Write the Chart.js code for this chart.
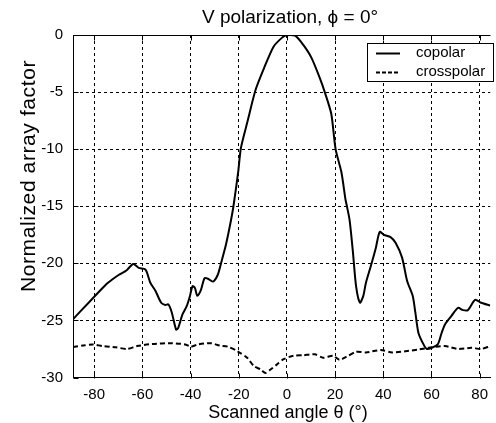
<!DOCTYPE html>
<html><head><meta charset="utf-8">
<script src="https://cdn.jsdelivr.net/npm/chart.js@4.4.1/dist/chart.umd.min.js"></script>
<style>html,body{margin:0;padding:0;background:#fff;}#wrap{width:496px;height:423px;}</style>
</head><body><div id="wrap"><canvas id="c" width="496" height="423"></canvas></div>
<script>
// ---- data ----
const chartTitle = 'V polarization, \u03D5 = 0\u00B0';
const xLabel = 'Scanned angle \u03B8 (\u00B0)';
const yLabel = 'Normalized array factor';
const seriesNames = ['copolar', 'crosspolar'];
const xTickValues = [-80, -60, -40, -20, 0, 20, 40, 60, 80];
const yTickValues = [0, -5, -10, -15, -20, -25, -30];

const copolarTheta = [-88.8,-75.1,-72.4,-69.7,-66.5,-63.8,-61.5,-58.7,-56.7,-54.6,-52.2,-50.5,-49.2,-47.8,-46.0,-45.1,-43.4,-41.7,-40.3,-39.2,-38.2,-37.2,-35.8,-34.2,-32.8,-30.7,-28.7,-27.3,-25.3,-23.2,-22.2,-20.2,-19.1,-16.4,-13.0,-9.5,-5.5,-2.0,-0.3,3.4,6.8,10.2,13.7,15.7,18.4,20.2,22.6,24.3,24.9,26.0,27.3,28.7,30.3,31.7,32.8,34.8,36.9,38.5,40.3,43.0,45.1,47.8,49.9,52.2,53.3,54.6,56.7,58.1,60.1,62.6,64.2,65.6,68.3,71.0,73.1,75.1,78.1,80.6,84.4];
const copolarValue = [-24.9,-21.85,-21.4,-21.0,-20.6,-20.05,-20.4,-20.55,-21.7,-22.4,-23.45,-23.65,-23.6,-24.3,-25.8,-25.65,-24.5,-23.8,-22.9,-22.0,-22.15,-22.85,-22.4,-21.3,-21.35,-21.6,-21.0,-19.95,-18.35,-16.2,-15.0,-11.95,-9.9,-7.6,-4.8,-2.9,-1.0,-0.23,-0.02,-0.05,-0.87,-2.0,-3.8,-5.0,-6.9,-10.0,-12.0,-14.4,-15.0,-16.2,-18.8,-22.0,-23.45,-22.85,-21.7,-20.25,-18.65,-17.25,-17.5,-17.7,-18.2,-19.5,-21.55,-22.85,-24.3,-26.1,-27.1,-27.5,-27.4,-27.1,-26.1,-25.35,-24.6,-23.9,-24.1,-24.1,-23.2,-23.45,-23.7];

const crossTheta = [-88.8,-84.7,-80.6,-76.5,-71.0,-66.3,-62.2,-56.0,-47.8,-42.3,-39.9,-36.9,-31.4,-28.0,-24.6,-20.5,-16.4,-13.7,-10.9,-8.9,-6.8,-4.1,-1.4,2.7,6.8,11.6,15.0,19.1,21.8,24.6,28.7,32.8,38.9,43.7,49.2,54.6,60.1,65.6,71.0,76.5,80.6,84.4];
const crossValue = [-27.33,-27.2,-27.1,-27.25,-27.36,-27.5,-27.25,-27.07,-27.0,-27.1,-27.3,-27.1,-27.0,-27.2,-27.3,-27.7,-28.3,-29.0,-29.3,-29.6,-29.3,-28.85,-28.4,-28.1,-28.05,-27.97,-28.27,-28.1,-28.45,-28.2,-27.75,-27.8,-27.6,-27.8,-27.7,-27.55,-27.35,-27.25,-27.5,-27.4,-27.5,-27.25];

const FONT = '"Liberation Sans", Arial, sans-serif';

const decor = {
  id: 'decor',
  afterDraw(chart) {
    const {ctx, chartArea: a, scales: {x, y}} = chart;
    ctx.save();
    ctx.strokeStyle = '#000'; ctx.lineWidth = 1; ctx.setLineDash([]);
    ctx.beginPath();
    const top = Math.round(a.top) + 0.5, bot = Math.round(a.bottom) + 0.5, left = Math.round(a.left) + 0.5;
    ctx.moveTo(a.left, top); ctx.lineTo(a.right, top);
    xTickValues.forEach(v => {
      const px = Math.round(x.getPixelForValue(v)) + 0.5;
      ctx.moveTo(px, top); ctx.lineTo(px, top + 5);
      ctx.moveTo(px, bot); ctx.lineTo(px, bot - 5);
    });
    yTickValues.forEach(v => {
      const py = Math.round(y.getPixelForValue(v)) + 0.5;
      ctx.moveTo(left, py); ctx.lineTo(left + 5, py);
    });
    ctx.stroke();

    // legend box
    ctx.fillStyle = '#fff';
    ctx.fillRect(367, 43, 127, 39);
    ctx.strokeRect(367.5, 43.5, 126, 38);
    ctx.lineWidth = 2;
    ctx.beginPath(); ctx.moveTo(376, 53.5); ctx.lineTo(400, 53.5); ctx.stroke();
    ctx.setLineDash([4, 2]);
    ctx.beginPath(); ctx.moveTo(376, 72.5); ctx.lineTo(400, 72.5); ctx.stroke();
    ctx.setLineDash([]);
    ctx.fillStyle = '#000';
    ctx.font = '15px ' + FONT;
    ctx.textAlign = 'left'; ctx.textBaseline = 'middle';
    ctx.fillText(seriesNames[0], 416, 53);
    ctx.fillText(seriesNames[1], 416, 72);

    // titles
    ctx.textAlign = 'center'; ctx.textBaseline = 'alphabetic';
    ctx.font = '19px ' + FONT;
    ctx.fillText(chartTitle, 290, 23);
    ctx.font = '18px ' + FONT;
    ctx.fillText(xLabel, 288, 418);
    ctx.save();
    ctx.translate(35, 176);
    ctx.rotate(-Math.PI / 2);
    ctx.font = '21px ' + FONT;
    if ('letterSpacing' in ctx) ctx.letterSpacing = '0.6px';
    ctx.fillText(yLabel, 0, 0);
    ctx.restore();
    ctx.restore();
  }
};

new Chart(document.getElementById('c'), {
  type: 'line',
  data: {
    datasets: [
      { label: seriesNames[0], data: copolarTheta.map((t, i) => ({x: t, y: copolarValue[i]})),
        borderColor: '#000', borderWidth: 2, pointRadius: 0, tension: 0.25, fill: false },
      { label: seriesNames[1], data: crossTheta.map((t, i) => ({x: t, y: crossValue[i]})),
        borderColor: '#000', borderWidth: 2, borderDash: [5, 3], pointRadius: 0, tension: 0.25, fill: false }
    ]
  },
  options: {
    responsive: false, animation: false, devicePixelRatio: 1,
    layout: { padding: { top: 35, left: 0, right: 0, bottom: 0 } },
    plugins: { legend: { display: false }, tooltip: { enabled: false }, title: { display: false } },
    scales: {
      x: {
        type: 'linear', min: -88.8, max: 84.4,
        afterFit: s => { s.height = 45.5; },
        afterBuildTicks: s => { s.ticks = xTickValues.map(v => ({value: v})); },
        grid: { color: '#000', lineWidth: 1, drawTicks: false },
        border: { display: true, color: '#000', width: 1, dash: [3, 3] },
        ticks: { color: '#000', font: { family: FONT, size: 15 }, padding: 8, maxRotation: 0, autoSkip: false }
      },
      y: {
        type: 'linear', min: -30, max: 0,
        afterFit: s => { s.width = 73; },
        afterBuildTicks: s => { s.ticks = yTickValues.map(v => ({value: v})); },
        grid: { color: '#000', lineWidth: 1, drawTicks: false },
        border: { display: true, color: '#000', width: 1, dash: [3, 3] },
        ticks: { color: '#000', font: { family: FONT, size: 15 }, padding: 10 }
      }
    }
  },
  plugins: [decor]
});
</script></body></html>
